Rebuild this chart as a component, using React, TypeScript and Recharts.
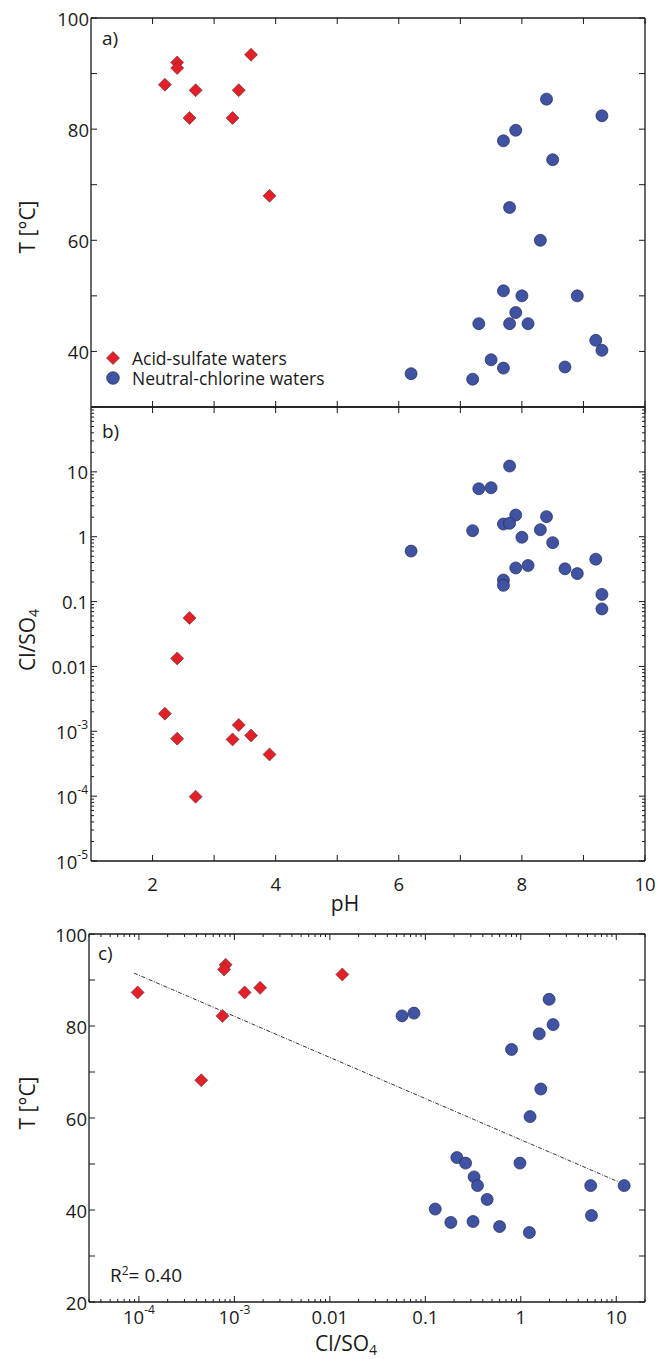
import React from "react";
import { ScatterChart, Scatter, XAxis, YAxis, Legend, Customized } from "recharts";

const FONT = '"Open Sans", "Noto Sans", sans-serif';
const RED = "#e3202a";
const BLUE = "#3f53a2";
const INK = "#1a1a1a";

// a) pH vs temperature
const acidPH = [2.2, 2.4, 2.4, 2.6, 2.7, 3.3, 3.4, 3.6, 3.9];
const acidT = [88, 92, 91, 82, 87, 82, 87, 93.4, 68];
const neutralPH = [8.4, 9.3, 7.9, 7.7, 8.5, 7.8, 8.3, 7.7, 8.0, 8.9, 7.9, 7.3, 7.8, 8.1, 9.2, 9.3, 7.5, 7.7, 8.7, 6.2, 7.2];
const neutralT = [85.4, 82.4, 79.8, 77.9, 74.5, 65.9, 60, 50.9, 50, 50, 47, 45, 45, 45, 42, 40.2, 38.5, 37, 37.2, 36, 35];

// b) pH vs Cl/SO4
const acidPHb = [2.6, 2.4, 2.2, 2.4, 3.4, 3.3, 3.6, 3.9, 2.7];
const acidRatio = [0.056, 0.0133, 0.00187, 0.00077, 0.00125, 0.00075, 0.00086, 0.00044, 0.000098];
const neutralPHb = [7.8, 7.3, 7.5, 7.9, 8.4, 7.7, 7.8, 7.2, 8.3, 8.0, 8.5, 6.2, 9.2, 7.9, 8.1, 8.7, 8.9, 7.7, 7.7, 9.3, 9.3];
const neutralRatio = [12.3, 5.5, 5.7, 2.16, 2.04, 1.57, 1.61, 1.24, 1.28, 0.98, 0.81, 0.6, 0.45, 0.33, 0.36, 0.32, 0.27, 0.215, 0.178, 0.129, 0.077];

// c) Cl/SO4 vs temperature
const acidRatioC = [9.7e-5, 4.5e-4, 8.1e-4, 7.8e-4, 7.5e-4, 1.28e-3, 1.86e-3, 0.0135];
const acidTC = [87.3, 68.2, 93.3, 92.3, 82.2, 87.3, 88.3, 91.2];
const neutralRatioC = [0.057, 0.076, 1.98, 2.18, 1.56, 0.8, 1.62, 1.25, 0.98, 0.214, 0.264, 0.324, 0.352, 0.444, 0.127, 0.185, 0.316, 0.6, 1.23, 5.4, 5.5, 12.1];
const neutralTC = [82.2, 82.8, 85.8, 80.3, 78.3, 74.9, 66.3, 60.3, 50.2, 51.4, 50.2, 47.2, 45.3, 42.3, 40.2, 37.3, 37.5, 36.4, 35.1, 45.3, 38.8, 45.3];
const fitRatio = [8.9e-5, 10.9];
const fitT = [91.5, 46];

// ticks
const phTicks = [2, 3, 4, 5, 6, 7, 8, 9, 10];
const phLabels = ["2", "", "4", "", "6", "", "8", "", "10"];
const tTicksA = [40, 50, 60, 70, 80, 90, 100];
const tTicksC = [20, 30, 40, 50, 60, 70, 80, 90, 100];
const tLabeled = [20, 40, 60, 80, 100];
const ratioMajorsB = [1e-5, 1e-4, 1e-3, 0.01, 0.1, 1, 10];
const ratioLabelsB = ["10^-5", "10^-4", "10^-3", "0.01", "0.1", "1", "10"];
const ratioMajorsC = [1e-4, 1e-3, 0.01, 0.1, 1, 10];
const ratioLabelsC = ["10^-4", "10^-3", "0.01", "0.1", "1", "10"];
const mult = [1, 2, 3, 4, 5, 6, 7, 8, 9];
const ratioTicksB = ratioMajorsB.flatMap((d) => mult.map((m) => m * d)).concat([100]);
const ratioTicksC = [1e-5, ...ratioMajorsC]
  .flatMap((d) => mult.map((m) => m * d))
  .filter((v) => v > 2.9e-5 && v < 20.1);

const pts = (xs: number[], ys: number[]) => xs.map((x, i) => ({ x, y: ys[i] }));
const isPow10 = (v: number) => Math.abs(Math.log10(v) - Math.round(Math.log10(v))) < 1e-6;
const lookup = (vals: number[], labels: string[]) => (v: number) => {
  const i = vals.findIndex((m) => Math.abs(v / m - 1) < 1e-6);
  return i >= 0 ? labels[i] : "";
};

function sup(text: string) {
  if (!text.includes("^")) return text;
  const [base, exp] = text.split("^");
  return (
    <>
      {base}
      <tspan dy={-7} fontSize={12}>
        {exp}
      </tspan>
    </>
  );
}

type Side = "left" | "right" | "top" | "bottom";
function inTick(side: Side, opts: { label?: (v: number) => string; gap?: number; minor?: (v: number) => boolean } = {}) {
  return (props: any) => {
    const { x, y, payload } = props;
    const v = payload.value;
    const len = opts.minor && opts.minor(v) ? 3 : 6;
    const dx = side === "left" ? len : side === "right" ? -len : 0;
    const dy = side === "top" ? len : side === "bottom" ? -len : 0;
    const gap = opts.gap ?? 0;
    const tx = side === "left" ? x - gap : side === "right" ? x + gap : x;
    const ty = side === "bottom" ? y + gap : side === "top" ? y - gap : y;
    const text = opts.label ? opts.label(v) : "";
    return (
      <g>
        <line x1={x} y1={y} x2={x + dx} y2={y + dy} stroke={INK} strokeWidth={1} />
        {text && (
          <text
            x={tx}
            y={ty}
            textAnchor={side === "left" ? "end" : side === "right" ? "start" : "middle"}
            dominantBaseline="central"
            fontSize={18.5}
            fill={INK}
          >
            {sup(text)}
          </text>
        )}
      </g>
    );
  };
}

const Diamond = (props: any) => {
  const { cx, cy } = props;
  const r = 6.5;
  return (
    <polygon
      points={`${cx},${cy - r} ${cx + r},${cy} ${cx},${cy + r} ${cx - r},${cy}`}
      fill={RED}
      stroke="#5b3030"
      strokeWidth={0.6}
    />
  );
};
const Dot = (props: any) => <circle cx={props.cx} cy={props.cy} r={6} fill={BLUE} stroke="#1f2a58" strokeWidth={0.7} />;
const Nothing = () => <g />;

const axisLine = { stroke: INK, strokeWidth: 1.3 };
const common = { tickSize: 0, tickMargin: 0, tickLine: false, axisLine, interval: 0 as const, allowDataOverflow: true, type: "number" as const };

function LegendBox(props: any) {
  const items = (props.payload || []).filter((e: any) => e.value);
  return (
    <div style={{ fontFamily: FONT, fontSize: 17.5, color: INK }}>
      {items.map((e: any) => (
        <div key={e.value} style={{ display: "flex", alignItems: "center", height: 20 }}>
          <svg width={14} height={20}>
            {e.value.startsWith("Acid") ? (
              <polygon points="7,3.5 13.5,10 7,16.5 0.5,10" fill={RED} stroke="#5b3030" strokeWidth={0.6} />
            ) : (
              <circle cx={7} cy={10} r={6.3} fill={BLUE} stroke="#1f2a58" strokeWidth={0.7} />
            )}
          </svg>
          <span style={{ marginLeft: 12, lineHeight: "20px" }}>{e.value}</span>
        </div>
      ))}
    </div>
  );
}

const TOP_B = 390;
const TOP_C = 912;
const H_C = 1359 - TOP_C;

// axes are 1px thick so recharts renders them; margins compensate
function PanelA() {
  return (
    <ScatterChart width={657} height={420} margin={{ top: 17, right: 11, bottom: 12, left: 90 }}>
      <XAxis xAxisId="x" dataKey="x" domain={[1, 10]} ticks={phTicks} orientation="bottom" height={1} tick={inTick("bottom")} {...common} />
      <XAxis xAxisId="xt" dataKey="x" domain={[1, 10]} ticks={phTicks} orientation="top" height={1} tick={inTick("top")} {...common} />
      <YAxis
        yAxisId="y"
        dataKey="y"
        domain={[30, 100]}
        ticks={tTicksA}
        width={1}
        tick={inTick("left", { gap: 2, label: (v) => (tLabeled.includes(v) ? String(v) : "") })}
        {...common}
      />
      <YAxis yAxisId="yr" dataKey="y" domain={[30, 100]} ticks={tTicksA} orientation="right" width={1} tick={inTick("right")} {...common} />
      <Scatter xAxisId="xt" yAxisId="yr" data={pts(acidPH, acidT)} shape={Nothing} legendType="none" isAnimationActive={false} />
      <Scatter xAxisId="x" yAxisId="y" name="Acid-sulfate waters" data={pts(acidPH, acidT)} fill={RED} shape={Diamond} isAnimationActive={false} />
      <Scatter xAxisId="x" yAxisId="y" name="Neutral-chlorine waters" data={pts(neutralPH, neutralT)} fill={BLUE} shape={Dot} isAnimationActive={false} />
      <Legend
        layout="vertical"
        align="center"
        verticalAlign="middle"
        content={<LegendBox />}
        wrapperStyle={{ left: 106, top: 348, width: 260 }}
      />
      <Customized
        component={
          <g fontFamily={FONT} fill={INK}>
            <text x={102} y={45} fontSize={19}>a)</text>
            <text x={27} y={227} fontSize={21} textAnchor="middle" dominantBaseline="central" transform="rotate(-90 27 227)">
              T [°C]
            </text>
          </g>
        }
      />
    </ScatterChart>
  );
}

function PanelB() {
  return (
    <ScatterChart width={657} height={540} margin={{ top: 407 - TOP_B - 1, right: 11, bottom: 540 - (861 - TOP_B) - 1, left: 90 }}>
      <XAxis
        xAxisId="x"
        dataKey="x"
        domain={[1, 10]}
        ticks={phTicks}
        orientation="bottom"
        height={1}
        tick={inTick("bottom", { gap: 22, label: lookup(phTicks, phLabels) })}
        {...common}
      />
      <XAxis xAxisId="xt" dataKey="x" domain={[1, 10]} ticks={phTicks} orientation="top" height={1} tick={inTick("top")} {...common} />
      <YAxis
        yAxisId="y"
        dataKey="y"
        scale="log"
        domain={[1e-5, 100]}
        ticks={ratioTicksB}
        width={1}
        tick={inTick("left", { gap: 3, minor: (v) => !isPow10(v), label: lookup(ratioMajorsB, ratioLabelsB) })}
        {...common}
      />
      <YAxis
        yAxisId="yr"
        dataKey="y"
        scale="log"
        domain={[1e-5, 100]}
        ticks={ratioTicksB}
        orientation="right"
        width={1}
        tick={inTick("right", { minor: (v) => !isPow10(v) })}
        {...common}
      />
      <Scatter xAxisId="xt" yAxisId="yr" data={pts(acidPHb, acidRatio)} shape={Nothing} legendType="none" isAnimationActive={false} />
      <Scatter xAxisId="x" yAxisId="y" name="Acid-sulfate waters" data={pts(acidPHb, acidRatio)} shape={Diamond} isAnimationActive={false} />
      <Scatter xAxisId="x" yAxisId="y" name="Neutral-chlorine waters" data={pts(neutralPHb, neutralRatio)} shape={Dot} isAnimationActive={false} />
      <Customized
        component={
          <g fontFamily={FONT} fill={INK}>
            <text x={102} y={438 - TOP_B} fontSize={19}>b)</text>
            <text
              x={27}
              y={640 - TOP_B}
              fontSize={21}
              textAnchor="middle"
              dominantBaseline="central"
              transform={`rotate(-90 27 ${640 - TOP_B})`}
            >
              Cl/SO<tspan dy={6} fontSize={14}>4</tspan>
            </text>
            <text x={345} y={903 - TOP_B} fontSize={21} textAnchor="middle" dominantBaseline="central">
              pH
            </text>
          </g>
        }
      />
    </ScatterChart>
  );
}

function PanelC() {
  return (
    <ScatterChart width={657} height={H_C} margin={{ top: 934 - TOP_C - 1, right: 11, bottom: H_C - (1302 - TOP_C) - 1, left: 88 }}>
      <XAxis
        xAxisId="x"
        dataKey="x"
        scale="log"
        domain={[3e-5, 20]}
        ticks={ratioTicksC}
        orientation="bottom"
        height={1}
        tick={inTick("bottom", { gap: 14, minor: (v) => !isPow10(v), label: lookup(ratioMajorsC, ratioLabelsC) })}
        {...common}
      />
      <XAxis
        xAxisId="xt"
        dataKey="x"
        scale="log"
        domain={[3e-5, 20]}
        ticks={ratioTicksC}
        orientation="top"
        height={1}
        tick={inTick("top", { minor: (v) => !isPow10(v) })}
        {...common}
      />
      <YAxis
        yAxisId="y"
        dataKey="y"
        domain={[20, 100]}
        ticks={tTicksC}
        width={1}
        tick={inTick("left", { gap: 2, label: (v) => (tLabeled.includes(v) ? String(v) : "") })}
        {...common}
      />
      <YAxis yAxisId="yr" dataKey="y" domain={[20, 100]} ticks={tTicksC} orientation="right" width={1} tick={inTick("right")} {...common} />
      <Scatter xAxisId="xt" yAxisId="yr" data={pts(acidRatioC, acidTC)} shape={Nothing} legendType="none" isAnimationActive={false} />
      <Scatter
        xAxisId="x"
        yAxisId="y"
        name="fit"
        data={pts(fitRatio, fitT)}
        shape={Nothing}
        line={{ stroke: "#333", strokeWidth: 1, strokeDasharray: "4 1.5 1 1.5" }}
        isAnimationActive={false}
      />
      <Scatter xAxisId="x" yAxisId="y" name="Acid-sulfate waters" data={pts(acidRatioC, acidTC)} shape={Diamond} isAnimationActive={false} />
      <Scatter xAxisId="x" yAxisId="y" name="Neutral-chlorine waters" data={pts(neutralRatioC, neutralTC)} shape={Dot} isAnimationActive={false} />
      <Customized
        component={
          <g fontFamily={FONT} fill={INK}>
            <text x={98} y={960 - TOP_C} fontSize={19}>c)</text>
            <text
              x={27}
              y={1103 - TOP_C}
              fontSize={21}
              textAnchor="middle"
              dominantBaseline="central"
              transform={`rotate(-90 27 ${1103 - TOP_C})`}
            >
              T [°C]
            </text>
            <text x={346} y={1343 - TOP_C} fontSize={21} textAnchor="middle" dominantBaseline="central">
              Cl/SO<tspan dy={6} fontSize={14}>4</tspan>
            </text>
            <text x={110} y={1282 - TOP_C} fontSize={19}>
              R<tspan dy={-7} fontSize={12}>2</tspan>
              <tspan dy={7}>= 0.40</tspan>
            </text>
          </g>
        }
      />
    </ScatterChart>
  );
}

export default function App() {
  return (
    <div style={{ position: "absolute", left: 0, top: 0, width: 657, height: 1359, background: "#fff", fontFamily: FONT }}>
      <div style={{ position: "absolute", left: 0, top: 0 }}>
        <PanelA />
      </div>
      <div style={{ position: "absolute", left: 0, top: TOP_B }}>
        <PanelB />
      </div>
      <div style={{ position: "absolute", left: 0, top: TOP_C }}>
        <PanelC />
      </div>
    </div>
  );
}
